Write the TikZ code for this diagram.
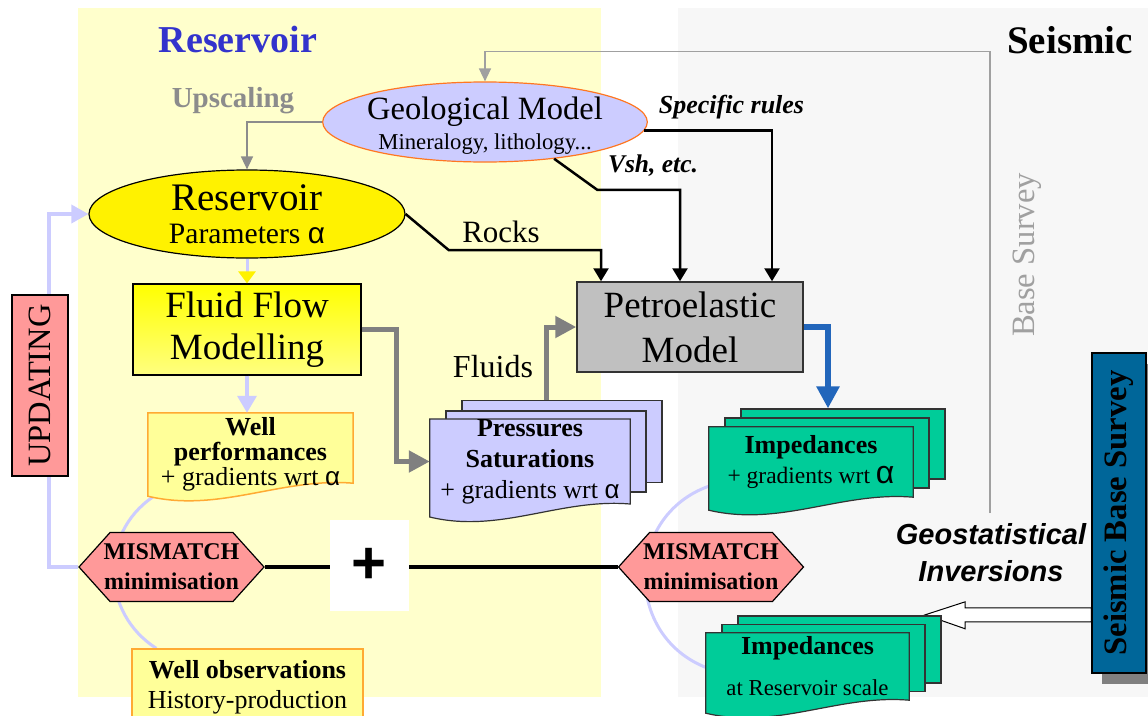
\documentclass[tikz,border=0pt]{standalone}
\usepackage{fontspec}
\setmainfont{Liberation Serif}
\setsansfont{Liberation Sans}
\usepackage{graphicx}
\usetikzlibrary{arrows.meta, positioning, calc, shapes.geometric, shapes.symbols, shadows}
\definecolor{resyellow}{HTML}{FFFFCC}
\definecolor{seisgrey}{HTML}{F7F7F7}
\definecolor{lavender}{HTML}{CCCCFF}
\definecolor{salmon}{HTML}{FF9999}
\definecolor{mint}{HTML}{00CC99}
\definecolor{seisblue}{HTML}{006699}
\definecolor{petrogrey}{HTML}{C0C0C0}
\definecolor{wellfill}{HTML}{FFFF99}
\definecolor{wellline}{HTML}{FFAA33}
\definecolor{titleblue}{HTML}{3333CC}
\definecolor{geoline}{HTML}{FF7722}
\definecolor{flowgrey}{HTML}{808080}
\definecolor{pemblue}{HTML}{2266BB}
\definecolor{upgrey}{HTML}{8C8C8C}
\definecolor{basegrey}{HTML}{A0A0A0}
\newcommand{\fsz}[2]{\fontsize{#1}{#2}\selectfont}
\newcommand{\alf}{{\sffamily α}}
% card outline with a wavy lower edge, drawn round node #2 (#1 = rise of the right corner)
\newcommand{\wavedoc}[3][0]{%
  \draw[#3] (#2.north west) -- (#2.north east) -- ($(#2.south east)+(0,-#1)$)
    .. controls ($(#2.south east)!0.35!(#2.south west)+(0,-6-#1)$)
    and ($(#2.south west)!0.35!(#2.south east)+(0,30-#1)$) .. ($(#2.south west)+(0,13-#1)$)
    -- cycle;}
\pgfdeclarelayer{panel}
\pgfdeclarelayer{under}
\pgfsetlayers{panel,under,main}
\begin{document}
\begin{tikzpicture}[x=1pt, y=-1pt,
    every node/.style={inner sep=0pt},
    ellbox/.style={ellipse, draw, line width=1.2pt, align=center},
    sheet/.style={draw=black!80, line width=1.2pt},
    docfront/.style={align=center},
    mmbox/.style={signal, signal to=east and west, signal pointer angle=96, draw, line width=1.2pt,
      fill=salmon, minimum width=185pt, minimum height=69pt, inner xsep=-7pt, inner ysep=0pt,
      align=center, font=\fsz{24}{30}\bfseries},
    blackarrow/.style={line width=2.5pt, -{Triangle[width=15pt,length=13pt]}},
    greyarrow/.style={draw=flowgrey, line width=5pt, -{Triangle[width=21pt,length=21pt]}},
    bluearrow/.style={draw=pemblue, line width=6pt, -{Triangle[width=22pt,length=22pt]}},
    thingrey/.style={draw=upgrey, line width=1.5pt, -{Triangle[width=12pt,length=13pt]}},
    lavline/.style={draw=lavender, line width=3.5pt}]
\useasboundingbox (0,0) rectangle (1148,715);

% panels
\begin{pgfonlayer}{panel}
  \fill[resyellow] (78,8) rectangle (601,697);
  \fill[seisgrey] (678,8) rectangle (1148,697);
\end{pgfonlayer}

% titles
\node[font=\fsz{38}{40}\bfseries, text=titleblue] (restitle) at (238,40) {Reservoir};
\node[font=\fsz{39}{40}\bfseries] (seistitle) at (1070,40) {Seismic};
\node[font=\fsz{29}{30}\bfseries, text=upgrey] (upscale) at (233,101) {Upscaling};

% models
\node[ellbox, fill=lavender, draw=geoline, minimum width=324pt, minimum height=80pt, inner xsep=-3pt,
  inner ysep=-6pt, font=\fsz{22.7}{30}] (geo) at (485,122)
  {{\fsz{32.5}{34}\rule{0pt}{30pt}Geological Model}\\Mineralogy, lithology...};
\node[ellbox, fill=yellow, minimum width=316pt, minimum height=88pt,
  font=\fsz{29.6}{33}] (res) at (247,214) {{\fsz{39}{40}Reservoir}\\Parameters \alf};
\node[draw, line width=1.2pt, top color=yellow, bottom color=yellow!50!white, minimum width=228pt,
  minimum height=91pt, align=center, font=\fsz{37}{42}] (ffm) at (247,329.5) {Fluid Flow\\Modelling};
\node[draw=black!80, line width=1.5pt, fill=petrogrey, minimum width=226pt, minimum height=90pt,
  align=center, font=\fsz{37}{45}] (petro) at (690,327) {Petroelastic\\Model};

% labels
\node[font=\fsz{31}{32}] (rocks) at (501,232) {Rocks};
\node[font=\fsz{26}{28}\bfseries\itshape] (rules) at (731.5,107) {Specific rules};
\node[font=\fsz{25.5}{28}\bfseries\itshape] (vsh) at (653,166) {Vsh, etc.};
\node[font=\fsz{32}{34}] (fluids) at (493,367) {Fluids};
\node[font=\fsz{32.6}{34}, text=basegrey, rotate=90] (basesurv) at (1027,255) {Base Survey};
\node[font=\sffamily\bfseries\itshape\fsz{29}{37}, align=center] (geostat) at (991,553) {Geostatistical\\Inversions};

% cards
\node[docfront, minimum width=205pt, minimum height=82.8pt, font=\fsz{26}{25}] (wperf) at (250.5,454.4)
  {\textbf{Well}\\\textbf{performances}\\+ gradients wrt \alf};
\node[docfront, minimum width=200pt, minimum height=81pt, font=\fsz{26}{31}] (pres) at (530,461.5)
  {\textbf{Pressures}\\\textbf{Saturations}\\+ gradients wrt \alf};
\node[docfront, minimum width=204pt, minimum height=70pt, font=\fsz{26}{30}] (impF) at (811,462)
  {\textbf{Impedances}\\{\fsz{23.5}{24}+ gradients wrt {\fsz{32}{32}\alf}}};
\node[docfront, minimum width=203pt, minimum height=67pt, font=\fsz{26}{41}] (impR) at (807.5,666.5)
  {\textbf{Impedances}\\{\fsz{22.8}{24}at Reservoir scale}};
\node[draw=wellline, line width=1.5pt, fill=wellfill, minimum width=231pt, minimum height=76pt,
  align=center, font=\fsz{26}{30}] (wobs) at (247.5,687) {\textbf{Well observations}\\History-production};

% side boxes
\node[draw, line width=1.5pt, fill=salmon, rotate=90, minimum width=181pt, minimum height=56pt,
  font=\fsz{32.5}{34}] (upd) at (40,385.5) {UPDATING};
\node[draw, line width=1.5pt, fill=seisblue, minimum width=54pt, minimum height=320pt,
  font=\fsz{32.7}{34}\bfseries,
  drop shadow={shadow xshift=10pt, shadow yshift=-11pt, fill=black!50, opacity=1}] (sbs) at (1119,513)
  {\rotatebox{90}{Seismic Base Survey}};

% mismatch
\node[mmbox] (mmL) at (171.5,567) {MISMATCH\\minimisation};
\node[mmbox] (mmR) at (711,567) {MISMATCH\\minimisation};
\draw[line width=4pt] (mmL.east) -- (mmR.west);
\node[fill=white, minimum width=79pt, minimum height=91pt, font=\sffamily\bfseries\fsz{60}{60}] (plus) at (369.5,565.5) {+};

\begin{pgfonlayer}{under}
  % inversion arrow
  \coordinate (wtip) at ($(impR.north east)+(16,-18)$);
  \coordinate (wtail) at (sbs.west |- wtip);
  \draw[fill=white, line width=1pt] ($(wtail)+(0,-7)$) -- ($(wtip)+(40,-7)$) -- ($(wtip)+(40,-13)$) -- (wtip)
    -- ($(wtip)+(40,14)$) -- ($(wtip)+(40,7)$) -- ($(wtail)+(0,7)$) -- cycle;
  % updating loop and links
  \draw[lavline, -{Triangle[width=18pt,length=17pt]}] (mmL.west) -- ++(-29,0) |- (res.west);
  \draw[draw=lavender, line width=3pt] ($(wperf.south west)+(5,1)$) .. controls +(-54,37) and +(-55,-35) .. ($(wobs.north west)+(25,0)$);
  \draw[draw=lavender, line width=3pt] ($(impF.south west)+(0,-11)$) .. controls +(-84,30) and +(-83,-32) .. ($(impR.north west)+(1,35)$);
  % stacked sheets
  \wavedoc[12.8]{wperf}{draw=wellline, fill=wellfill, line width=1.5pt}
  \node[sheet, fill=lavender, minimum width=200pt, minimum height=82pt] (presb) at ($(pres.center)+(32,-20)$) {};
  \node[sheet, fill=lavender, minimum width=200pt, minimum height=81pt] (presm) at ($(pres.center)+(16,-10)$) {};
  \wavedoc{pres}{sheet, fill=lavender}
  \node[sheet, fill=mint, minimum width=204pt, minimum height=70pt] (impFb) at ($(impF.center)+(32,-18)$) {};
  \node[sheet, fill=mint, minimum width=204pt, minimum height=70pt] (impFm) at ($(impF.center)+(16,-9)$) {};
  \wavedoc{impF}{sheet, fill=mint}
  \node[sheet, fill=mint, minimum width=203pt, minimum height=67pt] (impRb) at ($(impR.center)+(32,-17)$) {};
  \node[sheet, fill=mint, minimum width=203pt, minimum height=67pt] (impRm) at ($(impR.center)+(16,-8.5)$) {};
  \wavedoc{impR}{sheet, fill=mint}
\end{pgfonlayer}

% connectors
\coordinate (bsend) at (990,513);
\draw[thingrey, draw=basegrey] (bsend) |- ([yshift=30pt]geo.north) -- (geo.north);
\draw[thingrey] (geo.west) -| (res.north);
\draw[blackarrow] (res.east) -- ++(43,36) -| ([xshift=-89pt]petro.north);
\draw[blackarrow] (geo.-28) -- ++(43,31) -| ([xshift=-10pt]petro.north);
\draw[blackarrow] (geo.-3) -| ([xshift=82pt]petro.north);
\draw[greyarrow] (ffm.east) -- ++(35,0) |- (pres.west);
\draw[greyarrow] ([xshift=-16pt]presb.north) |- (petro.west);
\draw[bluearrow] (petro.east) -| ([xshift=-15pt]impFb.north);
\draw[lavline, -{Triangle[width=19pt,length=17pt]}] (ffm.south) -- (ffm.south |- wperf.north);
\draw[draw=lavender, line width=3pt, -{Triangle[width=17pt,length=12pt,color=yellow]}] (res.south) -- (ffm.north);
\end{tikzpicture}
\end{document}
